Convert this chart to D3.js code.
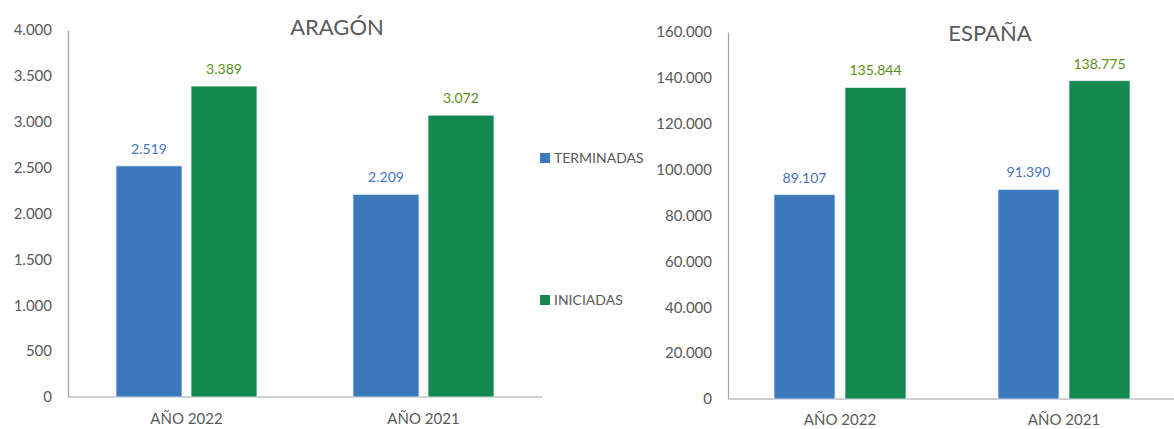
<!DOCTYPE html>
<html><head><meta charset="utf-8">
<script src="https://cdn.jsdelivr.net/npm/d3@7"></script>
<style>body{margin:0;background:#fff}svg{display:block}</style>
</head><body>
<svg id="c" width="1174" height="429"></svg>
<script>
const categories = ["AÑO 2022", "AÑO 2021"];
const seriesNames = ["TERMINADAS", "INICIADAS"];
const aragonTerminadas = [2519, 2209];
const aragonIniciadas = [3389, 3072];
const espanaTerminadas = [89107, 91390];
const espanaIniciadas = [135844, 138775];
const aragonTicks = [0, 500, 1000, 1500, 2000, 2500, 3000, 3500, 4000];
const espanaTicks = [0, 20000, 40000, 60000, 80000, 100000, 120000, 140000, 160000];

const barColors = ["#3D78BB", "#138950"];
const labelColors = ["#4472C4", "#5B9016"];
const FONT = "Lato, 'Open Sans', sans-serif";
const fmt = v => d3.format(",")(v).replace(/,/g, ".");
const svg = d3.select("#c");

function panel(opts) {
  const {title, terminadas, iniciadas, ticks, x0, x1, yTop, yBot, titleX, titleY, catY, barW, gap} = opts;
  const g = svg.append("g");
  const x = d3.scaleBand().domain(categories).range([x0, x1]);
  const y = d3.scaleLinear().domain([0, d3.max(ticks)]).range([yBot, yTop]);
  const yAxis = g.append("g").attr("transform", `translate(${x0},0)`)
    .call(d3.axisLeft(y).tickValues(ticks).tickFormat(fmt).tickSize(0).tickPadding(16));
  yAxis.select(".domain").attr("stroke", "#A6A6A6").attr("stroke-width", 1.3);
  yAxis.selectAll("text").attr("fill", "#595959").style("font-family", FONT).style("font-size", "15px");
  g.append("line").attr("x1", x0).attr("x2", x1).attr("y1", y(0)).attr("y2", y(0))
    .attr("stroke", "#BFBFBF").attr("stroke-width", 1.3);
  const data = [];
  categories.forEach((c, i) => {
    [terminadas[i], iniciadas[i]].forEach((v, s) => data.push({c, s, v}));
  });
  const bx = d => x(d.c) + x.bandwidth() / 2 + (d.s === 0 ? -gap / 2 - barW : gap / 2);
  g.selectAll("rect.bar").data(data).join("rect").attr("class", "bar")
    .attr("x", bx).attr("width", barW)
    .attr("y", d => y(d.v)).attr("height", d => y(0) - y(d.v))
    .attr("fill", d => barColors[d.s]).attr("stroke", "#E6EEF8").attr("stroke-width", 0.8);
  g.selectAll("text.lbl").data(data).join("text").attr("class", "lbl")
    .attr("x", d => bx(d) + barW / 2).attr("y", d => y(d.v) - 12)
    .attr("text-anchor", "middle").attr("fill", d => labelColors[d.s])
    .style("font-family", FONT).style("font-size", "14px").text(d => fmt(d.v));
  g.selectAll("text.cat").data(categories).join("text").attr("class", "cat")
    .attr("x", d => x(d) + x.bandwidth() / 2).attr("y", catY)
    .attr("text-anchor", "middle").attr("fill", "#595959")
    .style("font-family", FONT).style("font-size", "15px").text(d => d);
  g.append("text").attr("x", titleX).attr("y", titleY).attr("text-anchor", "middle")
    .attr("fill", "#595959").style("font-family", FONT).style("font-size", "22px").text(title);
}

panel({title: "ARAGÓN", terminadas: aragonTerminadas, iniciadas: aragonIniciadas, ticks: aragonTicks,
  x0: 68, x1: 542, yTop: 30, yBot: 397, titleX: 337, titleY: 35, catY: 424, barW: 66, gap: 9});
panel({title: "ESPAÑA", terminadas: espanaTerminadas, iniciadas: espanaIniciadas, ticks: espanaTicks,
  x0: 728, x1: 1176, yTop: 32, yBot: 399, titleX: 990, titleY: 41, catY: 425, barW: 61, gap: 10});

// legend
const leg = svg.append("g");
const legY = [158, 300];
seriesNames.forEach((n, i) => {
  leg.append("rect").attr("x", 540).attr("y", legY[i] - 5).attr("width", 10).attr("height", 10).attr("fill", barColors[i]);
  leg.append("text").attr("x", 554).attr("y", legY[i] + 5).attr("fill", "#595959")
    .style("font-family", FONT).style("font-size", "14px").text(n);
});
</script>
</body></html>
